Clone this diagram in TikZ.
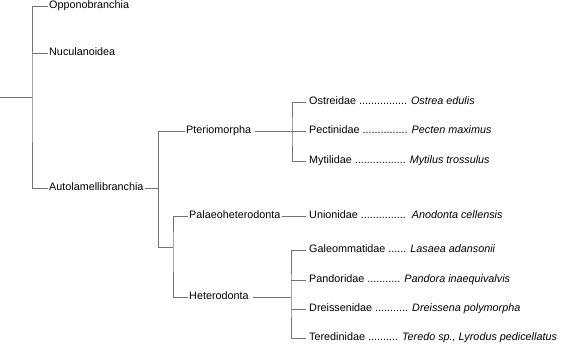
\documentclass[tikz,border=0pt]{standalone}
\usepackage{fontspec}
\setmainfont{Liberation Sans}
\usetikzlibrary{positioning, calc}

\begin{document}
\begin{tikzpicture}[x=1pt, y=-1pt,
    every node/.style={font=\fontsize{10.8}{12}\selectfont},
    taxon/.style={anchor=mid west, inner sep=1pt},
    leaf/.style={taxon, inner xsep=3pt},
    branch/.style={draw=black!55, line width=0.9pt}]
  \useasboundingbox (0,0) rectangle (567,350);

  % first split
  \coordinate (root) at (0,97);
  \coordinate (n1) at (32,97);
  \node[taxon] (opp) at (48,6) {Opponobranchia};
  \node[taxon] (nuc) at (48,53) {Nuculanoidea};
  \node[taxon] (aut) at (48,188) {Autolamellibranchia};
  \draw[branch] (root) -- (n1);
  \draw[branch] (opp.mid west) -| (n1) |- (aut.mid west);
  \draw[branch] (nuc.mid west) -- (nuc.mid west -| n1);

  % Autolamellibranchia
  \coordinate (n2) at (158,188);
  \coordinate (n3) at (158,247);
  \coordinate (n4) at (173,247);
  \node[taxon] (pte) at (185,131) {Pteriomorpha};
  \node[taxon] (pal) at (188,216) {Palaeoheterodonta};
  \node[taxon] (het) at (188,297) {Heterodonta};
  \draw[branch] (aut.mid east) -- (n2);
  \draw[branch] (pte.mid west) -| (n3) -- (n4);
  \draw[branch] (pal.mid west) -| (n4) |- (het.mid west);

  % Pteriomorpha
  \coordinate (n5) at (292,131);
  \node[leaf] (ost) at (306,102) {Ostreidae ................ \textit{Ostrea edulis}};
  \node[leaf] (pec) at (306,131) {Pectinidae ............... \textit{Pecten maximus}};
  \node[leaf] (myt) at (306,161) {Mytilidae ................. \textit{Mytilus trossulus}};
  \draw[branch] ([xshift=3pt]pte.mid east) -- (n5);
  \draw[branch] (ost.mid west) -| (n5) |- (myt.mid west);
  \draw[branch] (pec.mid west) -- (n5);

  % Palaeoheterodonta
  \node[leaf] (uni) at (306,216) {Unionidae ...............\ \ \textit{Anodonta cellensis}};
  \draw[branch] (pal.mid east) -- (uni.mid west);

  % Heterodonta
  \coordinate (n6) at (291,297);
  \node[leaf] (gal) at (306,250) {Galeommatidae ...... \textit{Lasaea adansonii}};
  \node[leaf] (pan) at (306,280) {Pandoridae ........... \textit{Pandora inaequivalvis}};
  \node[leaf] (dre) at (306,309) {Dreissenidae ........... \textit{Dreissena polymorpha}};
  \node[leaf] (ter) at (306,338) {Teredinidae .......... \textit{Teredo sp., Lyrodus pedicellatus}};
  \draw[branch] ([xshift=3pt]het.mid east) -- (n6);
  \draw[branch] (gal.mid west) -| (n6) |- (ter.mid west);
  \draw[branch] (pan.mid west) -- (pan.mid west -| n6);
  \draw[branch] (dre.mid west) -- (dre.mid west -| n6);
\end{tikzpicture}
\end{document}
